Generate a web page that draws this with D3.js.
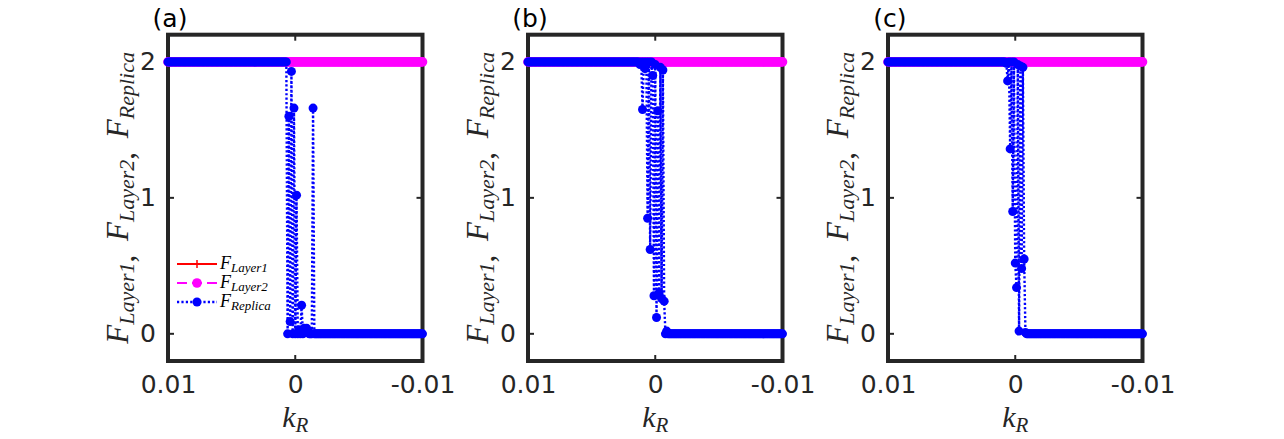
<!DOCTYPE html>
<html><head><meta charset="utf-8">
<script src="https://cdn.jsdelivr.net/npm/d3@7"></script>
<style>body{margin:0;background:#fff;} svg{display:block}</style>
</head><body><svg id="chart" width="1284" height="439"></svg>
<script>
// ---------- data ----------
const panelLabels = ["(a)", "(b)", "(c)"];
const xTickValues = [0.01, 0, -0.01];
const xTickLabels = ["0.01", "0", "-0.01"];
const yTickValues = [0, 1, 2];
const yTickLabels = ["0", "1", "2"];
const seriesNames = ["Layer1", "Layer2", "Replica"];
// k_R sampling grid: 201 points from 0.01 down to -0.01
const kRFirst = 0.01, kRLast = -0.01, kRCount = 201;
// series values, run-length encoded as [value, repeat count] along the k_R grid
const layer1Runs = [[2, 201]];
const layer2Runs = [[2, 201]];
const replicaRunsA = [[2, 94], [0, 1], [1.60, 1], [0.09, 1], [1.93, 1], [0, 1], [1.66, 1], [0, 1], [1.02, 1], [0, 1],
  [0.03, 1], [0, 1], [0.21, 1], [0, 1], [0.04, 1], [0.03, 1], [0.04, 1], [0.02, 1], [0, 3], [1.66, 1], [0, 86]];
const replicaRunsB = [[2, 88], [1.98, 1], [2, 1], [1.65, 1], [2, 1], [1.95, 1], [2, 1], [0.85, 1], [2, 1], [0.62, 1],
  [2, 1], [1.90, 1], [0.28, 1], [1.98, 1], [0.12, 1], [1.64, 1], [0.30, 1], [1.96, 1], [0.26, 1], [1.94, 1], [0.24, 1],
  [0, 1], [0.02, 1], [0, 91]];
const replicaRunsC = [[2, 93], [1.99, 1], [1.86, 1], [2, 1], [1.36, 1], [2, 1], [0.90, 1], [2, 1], [0.52, 1], [0.34, 1],
  [1.98, 1], [0.02, 1], [1.97, 1], [0.48, 1], [1.96, 1], [0.55, 1], [0.01, 1], [0, 92]];
const replicaRuns = [replicaRunsA, replicaRunsB, replicaRunsC];

// ---------- helpers ----------
function expandRuns(runs) {
  const out = [];
  runs.forEach(([v, n]) => { for (let j = 0; j < n; j++) out.push(v); });
  return out;
}
const kRGrid = d3.range(kRCount).map(i => kRFirst + (kRLast - kRFirst) * i / (kRCount - 1));
const pairs = vals => vals.map((v, i) => [kRGrid[i], v]);

// ---------- layout ----------
const svg = d3.select("#chart");
const AX = "#262626";
const panelLeft = [168, 528, 888];
const plotW = 254.5, plotTop = 34.7, plotBottom = 361;
const tickFont = "DejaVu Sans, sans-serif";
const mathFont = "Liberation Serif, Times New Roman, serif";

const yScale = d3.scaleLinear().domain([-0.2, 2.2]).range([plotBottom, plotTop]);

panelLabels.forEach((lab, p) => {
  const L = panelLeft[p];
  const x = d3.scaleLinear().domain([0.01, -0.01]).range([L, L + plotW]);
  const y = yScale;
  const g = svg.append("g");

  // box
  g.append("rect").attr("x", L).attr("y", plotTop).attr("width", plotW).attr("height", plotBottom - plotTop)
    .attr("fill", "none").attr("stroke", AX).attr("stroke-width", 4);

  // inward ticks on all sides
  const tl = 6;
  xTickValues.forEach(v => {
    g.append("line").attr("x1", x(v)).attr("x2", x(v)).attr("y1", plotBottom).attr("y2", plotBottom - tl).attr("stroke", AX).attr("stroke-width", 2);
    g.append("line").attr("x1", x(v)).attr("x2", x(v)).attr("y1", plotTop).attr("y2", plotTop + tl).attr("stroke", AX).attr("stroke-width", 2);
  });
  yTickValues.forEach(v => {
    g.append("line").attr("x1", L).attr("x2", L + tl).attr("y1", y(v)).attr("y2", y(v)).attr("stroke", AX).attr("stroke-width", 2);
    g.append("line").attr("x1", L + plotW).attr("x2", L + plotW - tl).attr("y1", y(v)).attr("y2", y(v)).attr("stroke", AX).attr("stroke-width", 2);
  });

  // axes labels via d3 axes
  const xa = g.append("g").attr("transform", `translate(0,${plotBottom})`)
    .call(d3.axisBottom(x).tickValues(xTickValues).tickFormat((d, i) => xTickLabels[i]).tickSize(0).tickPadding(14));
  const ya = g.append("g").attr("transform", `translate(${L},0)`)
    .call(d3.axisLeft(y).tickValues(yTickValues).tickFormat((d, i) => yTickLabels[i]).tickSize(0).tickPadding(12));
  [xa, ya].forEach(a => {
    a.select(".domain").remove();
    a.selectAll("text").attr("font-family", tickFont).attr("font-size", 25).attr("fill", AX);
  });

  // data
  const line = d3.line().x(d => x(d[0])).y(d => y(d[1]));
  const l1 = pairs(expandRuns(layer1Runs));
  const l2 = pairs(expandRuns(layer2Runs));
  const rp = pairs(expandRuns(replicaRuns[p]));

  g.append("path").datum(l1).attr("d", line).attr("fill", "none").attr("stroke", "#ff0000").attr("stroke-width", 2);
  g.append("g").selectAll("path").data(l1).join("path")
    .attr("d", d => `M${x(d[0]) - 4},${y(d[1])}H${x(d[0]) + 4}M${x(d[0])},${y(d[1]) - 4}V${y(d[1]) + 4}`)
    .attr("stroke", "#ff0000").attr("stroke-width", 1.5);

  g.append("path").datum(l2).attr("d", line).attr("fill", "none").attr("stroke", "#ff00ff").attr("stroke-width", 2).attr("stroke-dasharray", "10,5");
  g.append("g").selectAll("circle").data(l2).join("circle")
    .attr("cx", d => x(d[0])).attr("cy", d => y(d[1])).attr("r", 4.8).attr("fill", "#ff00ff");

  g.append("path").datum(rp).attr("d", line).attr("fill", "none").attr("stroke", "#0000ff").attr("stroke-width", 2.4).attr("stroke-dasharray", "2.2,2.2");
  g.append("g").selectAll("circle").data(rp).join("circle")
    .attr("cx", d => x(d[0])).attr("cy", d => y(d[1])).attr("r", 4.5).attr("fill", "#0000ff");

  // panel label
  g.append("text").attr("x", L + 2).attr("y", 27).attr("text-anchor", "middle")
    .attr("font-family", tickFont).attr("font-size", 25).attr("fill", "#000").text(lab);

  // x label k_R
  const xl = g.append("text").attr("x", L + plotW / 2).attr("y", 427).attr("text-anchor", "middle")
    .attr("font-family", mathFont).attr("fill", AX);
  xl.append("tspan").attr("font-size", 30).attr("font-style", "italic").text("k");
  xl.append("tspan").attr("font-size", 21).attr("font-style", "italic").attr("dy", 5).text("R");

  // y label
  const yl = g.append("text").attr("transform", `translate(${L - 40},${(plotTop + plotBottom) / 2}) rotate(-90)`)
    .attr("text-anchor", "middle").attr("font-family", mathFont).attr("fill", AX);
  seriesNames.forEach((nm, i) => {
    yl.append("tspan").attr("font-size", 31).attr("font-style", "italic").attr("dy", i === 0 ? 0 : -6).attr("dx", i === 0 ? 0 : 6).text("F");
    yl.append("tspan").attr("font-size", 22).attr("font-style", "italic").attr("dy", 6).text(nm);
    if (i < seriesNames.length - 1) yl.append("tspan").attr("font-size", 31).attr("dy", 0).text(", ");
  });

  // legend (panel a only)
  if (p === 0) {
    const lg = g.append("g").attr("transform", `translate(${L + 9},0)`);
    const rows = [264, 283, 302];
    const colors = ["#ff0000", "#ff00ff", "#0000ff"];
    const dashes = [null, "10,5", "2.2,2.2"];
    seriesNames.forEach((nm, i) => {
      const ry = rows[i];
      const ln = lg.append("line").attr("x1", 0).attr("x2", 40).attr("y1", ry).attr("y2", ry)
        .attr("stroke", colors[i]).attr("stroke-width", i === 2 ? 2.4 : 2);
      if (dashes[i]) ln.attr("stroke-dasharray", dashes[i]);
      if (i === 0) {
        lg.append("path").attr("d", `M16,${ry}H24M20,${ry - 4}V${ry + 4}`).attr("stroke", colors[i]).attr("stroke-width", 1.5);
      } else {
        lg.append("circle").attr("cx", 20).attr("cy", ry).attr("r", i === 1 ? 4.8 : 4.5).attr("fill", colors[i]);
      }
      const t = lg.append("text").attr("x", 43).attr("y", ry + 5).attr("font-family", mathFont).attr("fill", "#000");
      t.append("tspan").attr("font-size", 18).attr("font-style", "italic").text("F");
      t.append("tspan").attr("font-size", 13).attr("font-style", "italic").attr("dy", 3).text(nm);
    });
  }
});
</script>
</body></html>
